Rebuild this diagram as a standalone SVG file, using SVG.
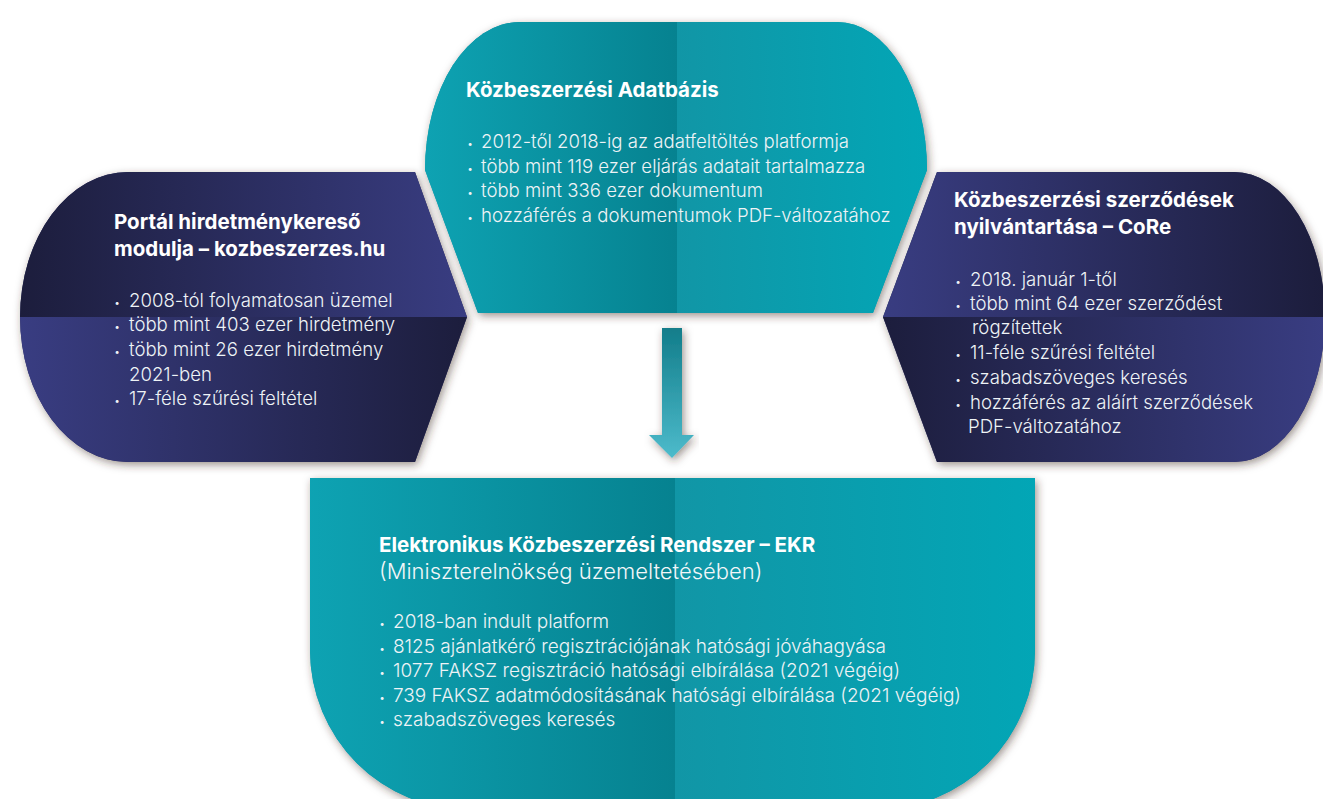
<svg xmlns="http://www.w3.org/2000/svg" width="1323" height="799" viewBox="0 0 1323 799">
<style>
.t{font-family:Inter,"Liberation Sans",sans-serif;font-weight:700;font-size:20.5px;fill:#ffffff}
.b{font-family:Inter,"Liberation Sans",sans-serif;font-weight:300;font-size:18.6px;fill:#eef3f6}
.bb{font-size:19px}
.s{font-family:Inter,"Liberation Sans",sans-serif;font-weight:300;font-size:22px;fill:#f2f6f8}
.d{font-size:11px}
</style>
<defs>
<filter id="sh" x="-10%" y="-10%" width="120%" height="125%">
<feDropShadow dx="2" dy="3" stdDeviation="4" flood-color="#3b2a20" flood-opacity="0.5"/>
</filter>
<linearGradient id="navyA" x1="0" y1="0" x2="1" y2="0"><stop offset="0" stop-color="#1c1d3c"/><stop offset="1" stop-color="#393d82"/></linearGradient>
<linearGradient id="navyB" x1="0" y1="0" x2="1" y2="0"><stop offset="0" stop-color="#393d82"/><stop offset="1" stop-color="#1c1d3c"/></linearGradient>
<linearGradient id="tealL" x1="0" y1="0" x2="1" y2="0"><stop offset="0" stop-color="#0ea3b3"/><stop offset="1" stop-color="#068290"/></linearGradient>
<linearGradient id="tealR" x1="0" y1="0" x2="1" y2="0"><stop offset="0" stop-color="#1196a6"/><stop offset="1" stop-color="#02a6b6"/></linearGradient>
<linearGradient id="arr" x1="0" y1="0" x2="0" y2="1"><stop offset="0" stop-color="#127d8a"/><stop offset="1" stop-color="#4dbbcb"/></linearGradient>
<clipPath id="cL"><path d="M128,172 L415,172 L467,317 L415,462 L128,462 A108 145 0 0 1 128 172 Z"/></clipPath>
<clipPath id="cR"><path d="M937,172 L1234,172 A91 145 0 0 1 1234 462 L937,462 L883,317 Z"/></clipPath>
<clipPath id="cT"><path d="M520,22 L837,22 A90 148 0 0 1 927 170 L873,313 L478,313 L425,170 A95 148 0 0 1 520 22 Z"/></clipPath>
<clipPath id="cB"><path d="M310,478 L1035,478 L1035,650 A160 160 0 0 1 875 810 L470,810 A160 160 0 0 1 310 650 Z"/></clipPath>
</defs>

<g id="node-portal">
<path d="M128,172 L415,172 L467,317 L415,462 L128,462 A108 145 0 0 1 128 172 Z" fill="#2a2c5e" filter="url(#sh)"/>
<g clip-path="url(#cL)">
<rect x="18" y="170" width="452" height="147" fill="url(#navyA)"/>
<rect x="18" y="317" width="452" height="147" fill="url(#navyB)"/>
</g>
<text class="t" x="114" y="229">Portál hirdetménykereső</text>
<text class="t" x="114" y="256">modulja – kozbeszerzes.hu</text>
<text class="b" x="114" y="307"><tspan class="d">•</tspan><tspan x="129">2008-tól folyamatosan üzemel</tspan></text>
<text class="b" x="114" y="331"><tspan class="d">•</tspan><tspan x="129">több mint 403 ezer hirdetmény</tspan></text>
<text class="b" x="114" y="356"><tspan class="d">•</tspan><tspan x="129">több mint 26 ezer hirdetmény</tspan></text>
<text class="b" x="129" y="381">2021-ben</text>
<text class="b" x="114" y="405"><tspan class="d">•</tspan><tspan x="129">17-féle szűrési feltétel</tspan></text>
</g>

<g id="node-core">
<path d="M937,172 L1234,172 A91 145 0 0 1 1234 462 L937,462 L883,317 Z" fill="#2a2c5e" filter="url(#sh)"/>
<g clip-path="url(#cR)">
<rect x="880" y="170" width="445" height="147" fill="url(#navyB)"/>
<rect x="880" y="317" width="445" height="147" fill="url(#navyA)"/>
</g>
<text class="t" x="954" y="207">Közbeszerzési szerződések</text>
<text class="t" x="954" y="234">nyilvántartása – CoRe</text>
<text class="b" x="955" y="286"><tspan class="d">•</tspan><tspan x="970">2018. január 1-től</tspan></text>
<text class="b" x="955" y="310"><tspan class="d">•</tspan><tspan x="970">több mint 64 ezer szerződést</tspan></text>
<text class="b" x="972" y="334">rögzítettek</text>
<text class="b" x="955" y="359"><tspan class="d">•</tspan><tspan x="970">11-féle szűrési feltétel</tspan></text>
<text class="b" x="955" y="384"><tspan class="d">•</tspan><tspan x="970">szabadszöveges keresés</tspan></text>
<text class="b" x="955" y="409"><tspan class="d">•</tspan><tspan x="970">hozzáférés az aláírt szerződések</tspan></text>
<text class="b" x="968" y="433">PDF-változatához</text>
</g>

<g id="node-adatbazis">
<path d="M520,22 L837,22 A90 148 0 0 1 927 170 L873,313 L478,313 L425,170 A95 148 0 0 1 520 22 Z" fill="#0a95a4" filter="url(#sh)"/>
<g clip-path="url(#cT)">
<rect x="420" y="20" width="257" height="296" fill="url(#tealL)"/>
<rect x="677" y="20" width="252" height="296" fill="url(#tealR)"/>
</g>
<text class="t" x="466" y="97">Közbeszerzési Adatbázis</text>
<text class="b" x="467" y="148"><tspan class="d">•</tspan><tspan x="481">2012-től 2018-ig az adatfeltöltés platformja</tspan></text>
<text class="b" x="467" y="173"><tspan class="d">•</tspan><tspan x="481">több mint 119 ezer eljárás adatait tartalmazza</tspan></text>
<text class="b" x="467" y="197"><tspan class="d">•</tspan><tspan x="481">több mint 336 ezer dokumentum</tspan></text>
<text class="b" x="467" y="222"><tspan class="d">•</tspan><tspan x="481">hozzáférés a dokumentumok PDF-változatához</tspan></text>
</g>

<g id="node-ekr">
<path d="M310,478 L1035,478 L1035,650 A160 160 0 0 1 875 810 L470,810 A160 160 0 0 1 310 650 Z" fill="#0a95a4" filter="url(#sh)"/>
<g clip-path="url(#cB)">
<rect x="305" y="475" width="370" height="340" fill="url(#tealL)"/>
<rect x="675" y="475" width="365" height="340" fill="url(#tealR)"/>
</g>
<text class="t" x="379" y="552">Elektronikus Közbeszerzési Rendszer – EKR</text>
<text class="s" x="379" y="579">(Miniszterelnökség üzemeltetésében)</text>
<text class="b bb" x="379" y="628"><tspan class="d">•</tspan><tspan x="393">2018-ban indult platform</tspan></text>
<text class="b bb" x="379" y="653"><tspan class="d">•</tspan><tspan x="393">8125 ajánlatkérő regisztrációjának hatósági jóváhagyása</tspan></text>
<text class="b bb" x="379" y="677"><tspan class="d">•</tspan><tspan x="393">1077 FAKSZ regisztráció hatósági elbírálása (2021 végéig)</tspan></text>
<text class="b bb" x="379" y="702"><tspan class="d">•</tspan><tspan x="393">739 FAKSZ adatmódosításának hatósági elbírálása (2021 végéig)</tspan></text>
<text class="b bb" x="379" y="726"><tspan class="d">•</tspan><tspan x="393">szabadszöveges keresés</tspan></text>
</g>

<g id="connectors">
<path d="M662,328 L682,328 L682,435 L694,435 L672,458 L649,435 L662,435 Z" fill="url(#arr)" filter="url(#sh)"/>
</g>
</svg>
